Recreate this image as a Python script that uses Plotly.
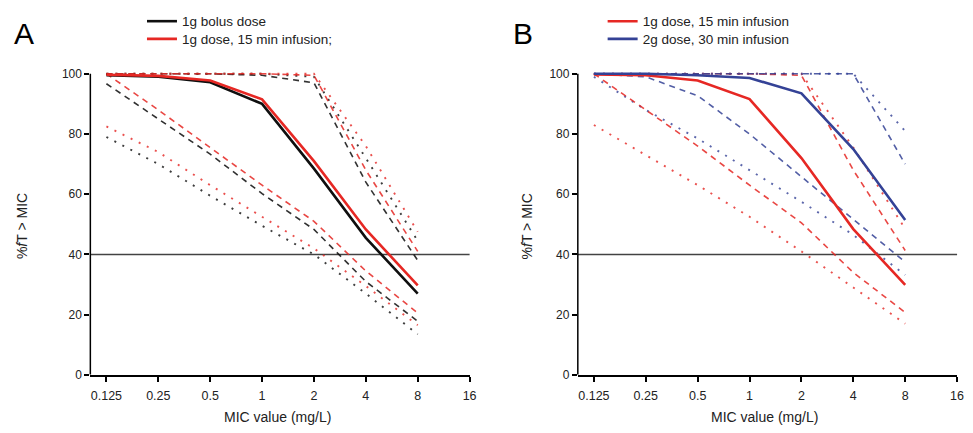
import math
import plotly.graph_objects as go

# ---------------- data ----------------
MIC = [0.125, 0.25, 0.5, 1, 2, 4, 8]
MIC_TICKS = [0.125, 0.25, 0.5, 1, 2, 4, 8, 16]
MIC_TICK_LABELS = ["0.125", "0.25", "0.5", "1", "2", "4", "8", "16"]
Y_TICKS = [0, 20, 40, 60, 80, 100]
THRESHOLD = 40

# Panel A
a_bolus_solid = [99.5, 99.0, 97.2, 90.0, 68.5, 45.5, 27.0]
a_inf_solid = [99.7, 99.3, 97.8, 91.5, 71.0, 48.3, 29.7]
a_bolus_dash_top = [100, 100, 100, 99.5, 97.0, 64.0, 38.0]
a_inf_dash_top = [100, 100, 100, 100, 99.5, 68.0, 41.0]
a_bolus_dot_top = [100, 100, 100, 100, 99.0, 72.0, 44.5]
a_inf_dot_top = [100, 100, 100, 100, 100, 76.0, 47.5]
a_bolus_dash_low = [96.7, 85.0, 73.3, 60.2, 48.3, 31.0, 17.8]
a_inf_dash_low = [100, 88.0, 75.5, 63.0, 51.0, 34.5, 20.5]
a_bolus_dot_low = [79.0, 70.0, 59.5, 49.5, 40.0, 27.0, 13.5]
a_inf_dot_low = [82.5, 74.0, 63.0, 52.5, 42.0, 29.5, 16.5]

# Panel B
b_inf_solid = [99.8, 99.5, 97.8, 91.6, 72.0, 48.4, 29.9]
b_2g_solid = [100, 100, 99.5, 98.6, 93.5, 75.0, 51.4]
b_inf_dash_top = [100, 100, 100, 100, 99.5, 68.0, 41.3]
b_inf_dot_top = [100, 100, 100, 100, 100, 75.5, 48.5]
b_2g_dash_top = [100, 100, 100, 100, 100, 100, 70.0]
b_2g_dot_top = [100, 100, 100, 100, 100, 100, 81.0]
b_inf_dash_low = [100, 88.0, 76.0, 63.0, 50.5, 34.0, 20.7]
b_inf_dot_low = [83.0, 73.0, 63.0, 52.5, 41.0, 29.0, 17.0]
b_2g_dash_low = [100, 99.0, 92.7, 80.0, 65.8, 51.8, 37.5]
b_2g_dot_low = [99.0, 88.0, 78.5, 68.0, 57.5, 46.5, 33.2]

# ---------------- styles ----------------
RED = "rgb(230,40,36)"
BLACK = "rgb(15,15,15)"
BLUE = "rgb(52,66,150)"
DASH = "6px,5px"
DOT = "2px,7px"
SANS = "Liberation Sans, Arial, sans-serif"

fig = go.Figure()


def add(y, color, style, xa, ya, name=None, legend=None):
    if style == "solid":
        line = dict(color=color, width=2.6)
        op = 1.0
    elif style == "dash":
        line = dict(color=color, width=1.6, dash=DASH)
        op = 0.85
    else:
        line = dict(color=color, width=1.9, dash=DOT)
        op = 0.8
    fig.add_trace(go.Scatter(
        x=MIC, y=y, mode="lines", line=line, opacity=op,
        xaxis=xa, yaxis=ya, name=name or "",
        showlegend=name is not None, legend=legend or "legend",
        hoverinfo="skip",
    ))


# Panel A
for y, c in [(a_bolus_dot_low, BLACK), (a_inf_dot_low, RED),
             (a_bolus_dot_top, BLACK), (a_inf_dot_top, RED)]:
    add(y, c, "dot", "x", "y")
for y, c in [(a_bolus_dash_low, BLACK), (a_inf_dash_low, RED),
             (a_bolus_dash_top, BLACK), (a_inf_dash_top, RED)]:
    add(y, c, "dash", "x", "y")
add(a_bolus_solid, BLACK, "solid", "x", "y", "1g bolus dose", "legend")
add(a_inf_solid, RED, "solid", "x", "y", "1g dose, 15 min infusion;", "legend2")

# Panel B
for y, c in [(b_inf_dot_low, RED), (b_2g_dot_low, BLUE),
             (b_inf_dot_top, RED), (b_2g_dot_top, BLUE)]:
    add(y, c, "dot", "x2", "y2")
for y, c in [(b_inf_dash_low, RED), (b_2g_dash_low, BLUE),
             (b_inf_dash_top, RED), (b_2g_dash_top, BLUE)]:
    add(y, c, "dash", "x2", "y2")
add(b_inf_solid, RED, "solid", "x2", "y2", "1g dose, 15 min infusion", "legend3")
add(b_2g_solid, BLUE, "solid", "x2", "y2", "2g dose, 30 min infusion", "legend4")

# ---------------- axes ----------------
W, H = 973, 433
xr = [math.log10(2 ** -3.31), math.log10(16)]
y_dom = [1 - 381 / H, 1 - (381 - 103 * 3.06) / H]

xcommon = dict(type="log", range=xr, tickvals=MIC_TICKS, ticktext=MIC_TICK_LABELS,
               showline=True, linecolor="black", linewidth=1.5, ticks="outside",
               ticklen=5, tickwidth=1.5, tickcolor="black", showgrid=False,
               zeroline=False, ticklabelstandoff=3,
               tickfont=dict(family=SANS, size=12.5, color="#222"))
ycommon = dict(range=[0, 103], tickvals=Y_TICKS, showline=False, ticks="outside",
               ticklen=5, tickwidth=1.5, tickcolor="black", showgrid=False,
               zeroline=False, tickfont=dict(family=SANS, size=12, color="#222"),
               domain=y_dom)

fig.update_layout(
    xaxis=dict(domain=[91 / W, 473 / W], anchor="y", **xcommon),
    yaxis=dict(anchor="x", **ycommon),
    xaxis2=dict(domain=[582 / W, 964 / W], anchor="y2", **xcommon),
    yaxis2=dict(anchor="x2", **ycommon),
)

shapes = []
for xa, ya in [("x", "y"), ("x2", "y2")]:
    shapes.append(dict(type="line", xref=xa + " domain", yref=ya, x0=0, x1=0,
                       y0=0, y1=100, line=dict(color="black", width=1.5)))
    shapes.append(dict(type="line", xref=xa + " domain", yref=ya, x0=0, x1=1,
                       y0=THRESHOLD, y1=THRESHOLD, line=dict(color="#444", width=1.5),
                       layer="below"))

annotations = []
for txt, xc in [("A", 24), ("B", 527)]:
    annotations.append(dict(text=txt, x=xc / W, y=1 - 34 / H, xref="paper", yref="paper",
                            xanchor="center", yanchor="middle", showarrow=False,
                            font=dict(family=SANS, size=30, color="black")))
for xc in [22, 531]:
    annotations.append(dict(text="%<i>f</i>T > MIC", x=xc / W, y=1 - 230 / H,
                            xref="paper", yref="paper", showarrow=False, textangle=-90,
                            xanchor="center", yanchor="middle",
                            font=dict(family=SANS, size=14, color="#222")))
for xc in [280, 770]:
    annotations.append(dict(text="MIC value (mg/L)", x=xc / W, y=1 - 424 / H,
                            xref="paper", yref="paper", showarrow=False,
                            xanchor="center", yanchor="middle",
                            font=dict(family=SANS, size=14, color="#222")))

legend_common = dict(font=dict(family=SANS, size=13.5, color="#222"),
                     bgcolor="rgba(0,0,0,0)", borderwidth=0,
                     xanchor="left", yanchor="top")

fig.update_layout(
    width=W, height=H, margin=dict(l=0, r=0, t=0, b=0),
    paper_bgcolor="white", plot_bgcolor="white",
    shapes=shapes, annotations=annotations,
    legend=dict(x=143 / W, y=1 - 6 / H, **legend_common),
    legend2=dict(x=143 / W, y=1 - 24 / H, **legend_common),
    legend3=dict(x=607 / W, y=1 - 6 / H, **legend_common),
    legend4=dict(x=607 / W, y=1 - 24 / H, **legend_common),
)

fig.write_html("out.html", config={"displayModeBar": False},
               post_script="document.body.style.margin='0';document.body.style.overflow='hidden';")
